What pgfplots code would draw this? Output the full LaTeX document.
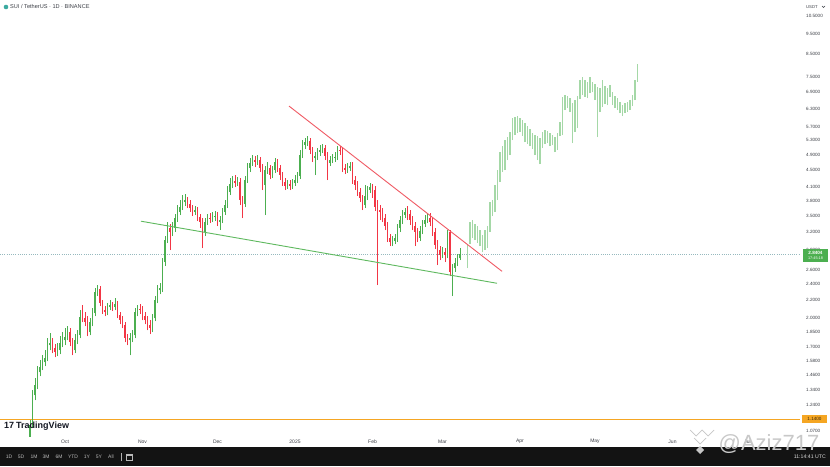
\documentclass[border=0pt]{standalone}
\usepackage{pgfplots}
\pgfplotsset{compat=1.18}
\usepackage{fontspec}
\setmainfont{Liberation Sans}
\definecolor{tvgreen}{RGB}{76,175,80}
\definecolor{tvred}{RGB}{242,54,69}
\definecolor{tvproj}{RGB}{165,216,167}
\definecolor{tvtext}{RGB}{60,63,70}
\definecolor{tvbar}{RGB}{19,19,19}
\definecolor{tvorange}{RGB}{245,166,35}
\definecolor{tlred}{RGB}{240,90,100}
\definecolor{tlgreen}{RGB}{95,185,95}
\definecolor{tvdots}{RGB}{150,185,190}
\definecolor{tvlogo}{RGB}{19,23,34}
\definecolor{tvicon}{RGB}{60,170,160}
\definecolor{tvorangetext}{RGB}{60,40,10}
\definecolor{tvwater}{RGB}{200,200,200}
% candle: day, open, high, low, close
\newcommand\Cd[5]{%
  \pgfmathparse{int(#5>=#2)}%
  \ifnum\pgfmathresult=1 \def\cc{tvgreen}\else\def\cc{tvred}\fi
  \edef\temp{\noexpand\addplot[draw=\cc, line width=0.6pt] coordinates {(#1,#4) (#1,#3)};
  \noexpand\addplot[draw=\cc, line width=1.9pt] coordinates {(#1,#2) (#1,#5)};}%
  \temp}
% projected bar: day, high, low
\newcommand\Pb[3]{\addplot[draw=tvproj, line width=1.2pt] coordinates {(#1,#3) (#1,#2)};}
\begin{document}
\begin{tikzpicture}[x=1pt,y=1pt]
\useasboundingbox (0,0) rectangle (830,466);
\fill[white] (0,0) rectangle (830,466);
\begin{axis}[
  at={(0pt,30pt)}, anchor=south west,
  width=800pt, height=436pt, scale only axis,
  xmin=-26, xmax=294,
  ymode=log, ymin=1.043, ymax=11.46,
  axis line style={draw=none},
  major tick length=0pt, yminorticks=false, xminorticks=false,
  xtick={0,31,61,92,123,151,182,212,243,273},
  xticklabels={Oct,Nov,Dec,2025,Feb,Mar,Apr,May,Jun,Jul},
  ytick={1.07,1.24,1.34,1.46,1.58,1.70,1.85,2.0,2.2,2.4,2.6,2.9,3.2,3.5,3.8,4.1,4.5,4.9,5.3,5.7,6.3,6.9,7.5,8.5,9.5,10.5},
  yticklabels={1.0700,1.2400,1.3400,1.4600,1.5800,1.7000,1.8500,2.0000,2.2000,2.4000,2.6000,2.9000,3.2000,3.5000,3.8000,4.1000,4.5000,4.9000,5.3000,5.7000,6.3000,6.9000,7.5000,8.5000,9.5000,10.5000},
  yticklabel pos=right,
  /pgf/number format/assume math mode=true,
  yticklabel style={anchor=west, xshift=6pt, inner sep=0pt, font=\fontsize{4.6}{5}\selectfont, text=tvtext},
  xticklabel style={anchor=center, yshift=-5.5pt, inner sep=0pt, font=\fontsize{5}{6}\selectfont, text=tvtext},
]
% reference lines
\addplot[draw=tvorange, line width=0.8pt] coordinates {(-26,1.14) (294,1.14)};
\addplot[draw=tvdots, line width=0.5pt, dash pattern=on 1pt off 1.2pt] coordinates {(-26,2.8404) (294,2.8404)};
% candles
\Cd{-14}{1.035}{1.136}{1.012}{1.105}
\Cd{-13}{1.105}{1.340}{1.087}{1.304}
\Cd{-12}{1.304}{1.432}{1.268}{1.378}
\Cd{-11}{1.378}{1.530}{1.348}{1.480}
\Cd{-10}{1.480}{1.581}{1.448}{1.521}
\Cd{-9}{1.521}{1.625}{1.496}{1.564}
\Cd{-8}{1.564}{1.670}{1.530}{1.598}
\Cd{-7}{1.598}{1.785}{1.572}{1.717}
\Cd{-6}{1.717}{1.835}{1.670}{1.736}
\Cd{-5}{1.736}{1.785}{1.643}{1.689}
\Cd{-4}{1.689}{1.727}{1.607}{1.652}
\Cd{-3}{1.652}{1.736}{1.616}{1.670}
\Cd{-2}{1.670}{1.804}{1.634}{1.736}
\Cd{-1}{1.736}{1.845}{1.698}{1.765}
\Cd{0}{1.765}{1.886}{1.717}{1.794}
\Cd{1}{1.794}{1.906}{1.765}{1.845}
\Cd{2}{1.845}{1.886}{1.708}{1.746}
\Cd{3}{1.746}{1.785}{1.625}{1.670}
\Cd{4}{1.670}{1.825}{1.643}{1.765}
\Cd{5}{1.765}{1.865}{1.727}{1.814}
\Cd{6}{1.814}{2.082}{1.785}{2.003}
\Cd{7}{2.003}{2.140}{1.948}{1.992}
\Cd{8}{1.992}{2.059}{1.906}{1.948}
\Cd{9}{1.948}{2.014}{1.804}{1.845}
\Cd{10}{1.845}{1.992}{1.814}{1.948}
\Cd{11}{1.948}{2.105}{1.906}{2.048}
\Cd{12}{2.048}{2.350}{2.014}{2.299}
\Cd{13}{2.299}{2.389}{2.249}{2.337}
\Cd{14}{2.337}{2.376}{2.128}{2.163}
\Cd{15}{2.163}{2.199}{2.037}{2.082}
\Cd{16}{2.082}{2.128}{2.014}{2.059}
\Cd{17}{2.059}{2.163}{2.025}{2.117}
\Cd{18}{2.117}{2.199}{2.082}{2.140}
\Cd{19}{2.140}{2.175}{2.071}{2.117}
\Cd{20}{2.117}{2.224}{2.082}{2.151}
\Cd{21}{2.151}{2.187}{1.992}{2.025}
\Cd{22}{2.025}{2.059}{1.927}{1.970}
\Cd{23}{1.970}{2.014}{1.886}{1.917}
\Cd{24}{1.917}{1.948}{1.746}{1.785}
\Cd{25}{1.785}{1.825}{1.717}{1.765}
\Cd{26}{1.765}{1.835}{1.625}{1.785}
\Cd{27}{1.785}{1.865}{1.746}{1.814}
\Cd{28}{1.814}{2.105}{1.785}{2.059}
\Cd{29}{2.059}{2.140}{2.014}{2.094}
\Cd{30}{2.094}{2.151}{2.037}{2.082}
\Cd{31}{2.082}{2.128}{1.970}{2.014}
\Cd{32}{2.014}{2.059}{1.927}{1.970}
\Cd{33}{1.970}{2.014}{1.865}{1.917}
\Cd{34}{1.917}{1.970}{1.825}{1.886}
\Cd{35}{1.886}{2.037}{1.845}{1.992}
\Cd{36}{1.992}{2.249}{1.959}{2.199}
\Cd{37}{2.199}{2.389}{2.163}{2.324}
\Cd{38}{2.324}{2.415}{2.273}{2.350}
\Cd{39}{2.350}{2.771}{2.299}{2.711}
\Cd{40}{2.711}{3.128}{2.652}{3.060}
\Cd{41}{3.060}{3.379}{3.010}{3.269}
\Cd{42}{3.269}{3.342}{2.896}{3.198}
\Cd{43}{3.198}{3.379}{3.128}{3.269}
\Cd{44}{3.269}{3.531}{3.198}{3.453}
\Cd{45}{3.453}{3.710}{3.379}{3.570}
\Cd{46}{3.570}{3.814}{3.511}{3.669}
\Cd{47}{3.669}{3.920}{3.609}{3.772}
\Cd{48}{3.772}{3.941}{3.690}{3.814}
\Cd{49}{3.814}{3.877}{3.649}{3.731}
\Cd{50}{3.731}{3.814}{3.570}{3.649}
\Cd{51}{3.649}{3.710}{3.492}{3.570}
\Cd{52}{3.570}{3.690}{3.511}{3.609}
\Cd{53}{3.609}{3.669}{3.397}{3.473}
\Cd{54}{3.473}{3.531}{3.269}{3.379}
\Cd{55}{3.379}{3.453}{2.928}{3.198}
\Cd{56}{3.198}{3.453}{3.128}{3.379}
\Cd{57}{3.379}{3.531}{3.323}{3.453}
\Cd{58}{3.453}{3.550}{3.360}{3.435}
\Cd{59}{3.435}{3.570}{3.379}{3.473}
\Cd{60}{3.473}{3.589}{3.397}{3.492}
\Cd{61}{3.492}{3.570}{3.305}{3.379}
\Cd{62}{3.379}{3.492}{3.233}{3.416}
\Cd{63}{3.416}{3.649}{3.360}{3.570}
\Cd{64}{3.570}{3.814}{3.511}{3.710}
\Cd{65}{3.710}{4.119}{3.649}{3.985}
\Cd{66}{3.985}{4.304}{3.920}{4.165}
\Cd{67}{4.165}{4.352}{4.074}{4.235}
\Cd{68}{4.235}{4.376}{4.097}{4.188}
\Cd{69}{4.188}{4.328}{4.119}{4.211}
\Cd{70}{4.211}{4.304}{3.710}{3.814}
\Cd{71}{3.814}{3.898}{3.453}{3.731}
\Cd{72}{3.731}{4.352}{3.669}{4.258}
\Cd{73}{4.258}{4.675}{4.188}{4.548}
\Cd{74}{4.548}{4.806}{4.449}{4.675}
\Cd{75}{4.675}{4.886}{4.599}{4.753}
\Cd{76}{4.753}{4.859}{4.573}{4.701}
\Cd{77}{4.701}{4.886}{4.624}{4.753}
\Cd{78}{4.753}{4.833}{4.449}{4.548}
\Cd{79}{4.548}{4.650}{4.029}{4.142}
\Cd{80}{4.142}{4.599}{3.511}{4.498}
\Cd{81}{4.498}{4.701}{4.400}{4.548}
\Cd{82}{4.548}{4.624}{4.281}{4.376}
\Cd{83}{4.376}{4.599}{4.304}{4.498}
\Cd{84}{4.498}{4.806}{4.424}{4.701}
\Cd{85}{4.701}{4.780}{4.449}{4.548}
\Cd{86}{4.548}{4.624}{4.258}{4.376}
\Cd{87}{4.376}{4.449}{4.119}{4.211}
\Cd{88}{4.211}{4.304}{4.029}{4.119}
\Cd{89}{4.119}{4.258}{4.052}{4.165}
\Cd{90}{4.165}{4.258}{4.029}{4.119}
\Cd{91}{4.119}{4.281}{4.052}{4.188}
\Cd{92}{4.188}{4.376}{4.119}{4.258}
\Cd{93}{4.258}{4.449}{4.188}{4.352}
\Cd{94}{4.352}{5.022}{4.281}{4.886}
\Cd{95}{4.886}{5.306}{4.806}{5.162}
\Cd{96}{5.162}{5.365}{5.050}{5.248}
\Cd{97}{5.248}{5.424}{5.134}{5.277}
\Cd{98}{5.277}{5.365}{4.913}{5.022}
\Cd{99}{5.022}{5.105}{4.701}{4.806}
\Cd{100}{4.806}{4.967}{4.376}{4.859}
\Cd{101}{4.859}{5.077}{4.753}{4.967}
\Cd{102}{4.967}{5.162}{4.859}{5.022}
\Cd{103}{5.022}{5.190}{4.940}{5.077}
\Cd{104}{5.077}{5.162}{4.753}{4.859}
\Cd{105}{4.859}{4.967}{4.258}{4.675}
\Cd{106}{4.675}{4.859}{4.599}{4.753}
\Cd{107}{4.753}{4.913}{4.675}{4.806}
\Cd{108}{4.806}{4.967}{4.701}{4.833}
\Cd{109}{4.833}{5.134}{4.753}{5.022}
\Cd{110}{5.022}{5.134}{4.886}{4.994}
\Cd{111}{4.994}{5.077}{4.449}{4.548}
\Cd{112}{4.548}{4.650}{4.400}{4.498}
\Cd{113}{4.498}{4.675}{4.424}{4.548}
\Cd{114}{4.548}{4.701}{4.473}{4.599}
\Cd{115}{4.599}{4.701}{4.165}{4.258}
\Cd{116}{4.258}{4.352}{4.029}{4.142}
\Cd{117}{4.142}{4.235}{3.898}{3.985}
\Cd{118}{3.985}{4.074}{3.772}{3.856}
\Cd{119}{3.856}{3.920}{3.609}{3.710}
\Cd{120}{3.710}{4.142}{3.649}{3.898}
\Cd{121}{3.898}{4.119}{3.814}{4.029}
\Cd{122}{4.029}{4.188}{3.963}{4.097}
\Cd{123}{4.097}{4.165}{3.856}{4.029}
\Cd{124}{4.029}{4.119}{3.589}{3.669}
\Cd{125}{3.669}{3.814}{2.389}{3.609}
\Cd{126}{3.609}{3.710}{3.416}{3.570}
\Cd{127}{3.570}{3.649}{3.379}{3.453}
\Cd{128}{3.453}{3.531}{3.233}{3.305}
\Cd{129}{3.305}{3.379}{3.027}{3.094}
\Cd{130}{3.094}{3.163}{2.961}{3.027}
\Cd{131}{3.027}{3.128}{2.961}{3.043}
\Cd{132}{3.043}{3.163}{2.993}{3.094}
\Cd{133}{3.094}{3.342}{3.027}{3.269}
\Cd{134}{3.269}{3.492}{3.198}{3.416}
\Cd{135}{3.416}{3.609}{3.342}{3.511}
\Cd{136}{3.511}{3.649}{3.453}{3.570}
\Cd{137}{3.570}{3.690}{3.416}{3.531}
\Cd{138}{3.531}{3.609}{3.323}{3.416}
\Cd{139}{3.416}{3.492}{3.233}{3.305}
\Cd{140}{3.305}{3.379}{2.961}{3.198}
\Cd{141}{3.198}{3.269}{3.027}{3.094}
\Cd{142}{3.094}{3.305}{3.043}{3.215}
\Cd{143}{3.215}{3.416}{3.163}{3.342}
\Cd{144}{3.342}{3.511}{3.287}{3.416}
\Cd{145}{3.416}{3.531}{3.360}{3.453}
\Cd{146}{3.453}{3.550}{3.305}{3.379}
\Cd{147}{3.379}{3.453}{3.128}{3.198}
\Cd{148}{3.198}{3.269}{2.912}{2.977}
\Cd{149}{2.977}{3.060}{2.667}{2.896}
\Cd{150}{2.896}{2.961}{2.741}{2.817}
\Cd{151}{2.817}{2.944}{2.771}{2.864}
\Cd{152}{2.864}{2.928}{2.711}{2.817}
\Cd{153}{2.817}{3.233}{2.771}{3.198}
\Cd{154}{3.198}{3.233}{2.510}{2.566}
\Cd{155}{2.566}{2.681}{2.249}{2.623}
\Cd{156}{2.623}{2.771}{2.566}{2.696}
\Cd{157}{2.696}{2.833}{2.652}{2.771}
\Cd{158}{2.771}{2.928}{2.741}{2.833}
% projected bars
\Pb{161}{2.977}{2.623}
\Pb{162}{3.379}{2.993}
\Pb{163}{3.416}{3.094}
\Pb{164}{3.342}{3.060}
\Pb{165}{3.305}{3.010}
\Pb{166}{3.233}{2.961}
\Pb{167}{3.145}{2.864}
\Pb{168}{3.233}{2.896}
\Pb{169}{3.305}{2.928}
\Pb{170}{3.772}{3.198}
\Pb{171}{3.814}{3.492}
\Pb{172}{4.142}{3.570}
\Pb{173}{4.498}{3.814}
\Pb{174}{4.967}{4.211}
\Pb{175}{5.134}{4.449}
\Pb{176}{5.306}{4.498}
\Pb{177}{5.394}{4.753}
\Pb{178}{5.546}{4.886}
\Pb{179}{5.989}{5.306}
\Pb{180}{6.022}{5.454}
\Pb{181}{6.056}{5.515}
\Pb{182}{5.989}{5.546}
\Pb{183}{5.924}{5.424}
\Pb{184}{5.827}{5.248}
\Pb{185}{5.731}{5.190}
\Pb{186}{5.638}{5.134}
\Pb{187}{5.515}{5.050}
\Pb{188}{5.454}{4.886}
\Pb{189}{5.424}{4.753}
\Pb{190}{5.365}{4.650}
\Pb{191}{5.546}{5.077}
\Pb{192}{5.607}{5.190}
\Pb{193}{5.576}{5.219}
\Pb{194}{5.515}{5.134}
\Pb{195}{5.454}{5.162}
\Pb{196}{5.394}{4.967}
\Pb{197}{5.515}{5.022}
\Pb{198}{5.859}{5.424}
\Pb{199}{6.724}{5.454}
\Pb{200}{6.798}{6.259}
\Pb{201}{6.761}{6.329}
\Pb{202}{6.687}{6.191}
\Pb{203}{6.505}{5.219}
\Pb{204}{6.613}{5.546}
\Pb{205}{6.761}{5.670}
\Pb{206}{7.383}{6.650}
\Pb{207}{7.506}{6.798}
\Pb{208}{7.383}{6.724}
\Pb{209}{7.302}{6.687}
\Pb{210}{7.506}{6.873}
\Pb{211}{7.302}{6.911}
\Pb{212}{7.222}{6.613}
\Pb{213}{7.104}{5.394}
\Pb{214}{7.065}{6.191}
\Pb{215}{7.383}{6.364}
\Pb{216}{7.143}{6.469}
\Pb{217}{7.065}{6.434}
\Pb{218}{7.182}{6.724}
\Pb{219}{6.911}{6.434}
\Pb{220}{6.761}{6.329}
\Pb{221}{6.687}{6.259}
\Pb{222}{6.540}{6.157}
\Pb{223}{6.434}{6.056}
\Pb{224}{6.505}{6.157}
\Pb{225}{6.540}{6.191}
\Pb{226}{6.613}{6.259}
\Pb{227}{6.798}{6.399}
\Pb{228}{7.383}{6.613}
\Pb{229}{8.062}{7.302}
% trend lines
\addplot[draw=tlred, line width=0.9pt] coordinates {(89.6,6.397) (174.8,2.579)};
\addplot[draw=tlgreen, line width=0.9pt] coordinates {(30.4,3.397) (172.8,2.415)};
\end{axis}
% TradingView logo
\node[anchor=west, inner sep=0pt, font=\fontsize{9}{9}\selectfont\bfseries, text=tvlogo] at (4,40) {17\kern2pt TradingView};
% title
\fill[tvicon] (6,459) circle (2.3pt);
\node[anchor=west, inner sep=0pt, font=\fontsize{5.6}{6}\selectfont, text=tvtext] at (10,459) {SUI / TetherUS · 1D · BINANCE};
\node[anchor=west, inner sep=0pt, font=\fontsize{4.2}{5}\selectfont, text=tvtext] at (806,459) {USDT};
\draw[tvtext, line width=0.4pt] (822,460) -- (823.5,458.5) -- (825,460);
% price labels
\fill[tvgreen] (803,204) rectangle (828,217);
\node[inner sep=0pt, font=\fontsize{4.6}{5}\selectfont\bfseries, text=white] at (815.5,213) {2.8404};
\node[inner sep=0pt, font=\fontsize{3.8}{4}\selectfont, text=white] at (815.5,207.5) {17:45:18};
\fill[tvorange] (802,43) rectangle (827,51);
\node[inner sep=0pt, font=\fontsize{4.6}{5}\selectfont, text=tvorangetext] at (814.5,47) {1.1400};
% bottom toolbar
\fill[tvbar] (0,0) rectangle (830,19);
\foreach \t/\x in {1D/9,5D/21,1M/34,3M/46,6M/59,YTD/73,1Y/87,5Y/99,All/111}
  \node[inner sep=0pt, font=\fontsize{5}{6}\selectfont, text=gray!55] at (\x,9) {\t};
\draw[gray!60, line width=0.4pt] (121,5) -- (121,13);
\draw[gray!55, line width=0.5pt] (126,5.5) rectangle (132,12);
\draw[gray!55, line width=0.5pt] (126,10.5) -- (132,10.5);
\node[anchor=east, inner sep=0pt, font=\fontsize{5.2}{6}\selectfont, text=white!85!black] at (826,9) {11:14:41 UTC};
% watermark
\draw[gray!45, line width=0.7pt] (690,36) -- (696,30) -- (702,36) -- (708,30) -- (714,36);
\draw[gray!45, line width=0.7pt] (694,28) -- (700,22) -- (706,28);
\fill[gray!45] (700,20) -- (704,16) -- (700,12) -- (696,16) -- cycle;
\node[inner sep=0pt, font=\fontsize{22}{22}\selectfont, text=tvwater] at (769,22) {@Aziz717};
\end{tikzpicture}
\end{document}
